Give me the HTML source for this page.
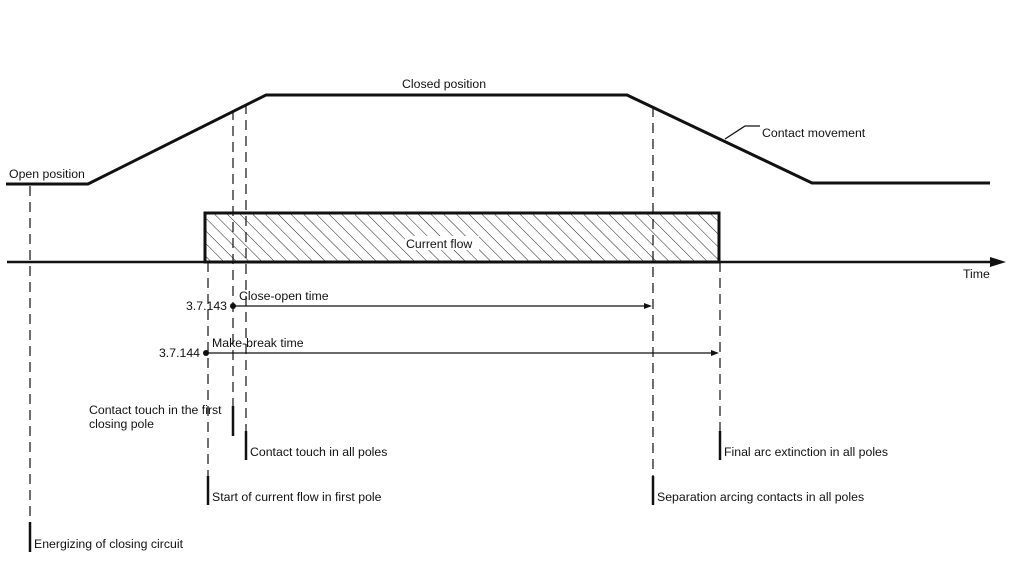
<!DOCTYPE html>
<html><head><meta charset="utf-8"><style>
html,body{margin:0;padding:0;background:#fff;}
svg{display:block;}
text{font-family:"Liberation Sans",sans-serif;font-size:12.3px;fill:#111;}
</style></head><body>
<svg id="c" width="1025" height="572" viewBox="0 0 1025 572">
<defs>
<pattern id="hatch" patternUnits="userSpaceOnUse" width="9" height="9" patternTransform="rotate(-45)">
<line x1="0" y1="0" x2="0" y2="9" stroke="#222" stroke-width="1"/>
</pattern>
</defs>
<g id="g"></g>
</svg>
<script>
// Contact movement path (time x, position y)
const moveX = [6, 88, 266, 627, 812, 990];
const moveY = [184, 184, 95, 95, 183, 183];
// Current flow interval
const flowStart = [205];
const flowEnd = [719];
// Event markers: x, dash top, tick top, tick bottom
const eventX = [30, 208, 233, 246, 653, 720];
const eventTop = [186, 262, 110, 104, 107, 262];
const tickTop = [522, 476, 406, 431, 476, 431];
const tickBot = [552, 505, 436, 460, 505, 460];
const eventLabels = ["Energizing of closing circuit","Start of current flow in first pole","","Contact touch in all poles","Separation arcing contacts in all poles","Final arc extinction in all poles"];
// Intervals
const intStart = [233, 206];
const intEnd = [652, 719];
const intY = [306, 353];
const intCode = ["3.7.143", "3.7.144"];
const intName = ["Close-open time", "Make-break time"];

const NS = "http://www.w3.org/2000/svg";
const g = document.getElementById('g');
function mk(tag, attrs, txt){
  const e = document.createElementNS(NS, tag);
  for (const k in attrs) e.setAttribute(k, attrs[k]);
  if (txt) e.textContent = txt;
  g.appendChild(e);
  return e;
}
let e;
e = mk('line',{x1:7,y1:262,x2:995,y2:262,stroke:'#111','stroke-width':2.5});


e = mk('polygon',{points:'1006,262 990,257 990,267',fill:'#111'});


e = mk('text',{x:963,y:278},'Time');


e = mk('rect',{x:flowStart[0],y:213,width:flowEnd[0]-flowStart[0],height:49,fill:'url(#hatch)',stroke:'#111','stroke-width':3});


e = mk('rect',{x:405,y:236,width:74,height:14,fill:'#fff'});


e = mk('text',{x:406,y:248},'Current flow');


e = mk('polyline',{points:moveX.map((x,i)=>x+','+moveY[i]).join(' '),fill:'none',stroke:'#111','stroke-width':3});


e = mk('text',{x:9,y:178},'Open position');


e = mk('text',{x:402,y:88},'Closed position');


e = mk('polyline',{points:'725,139 745,126 760,126',fill:'none',stroke:'#111','stroke-width':1.3});


e = mk('text',{x:762,y:137},'Contact movement');


eventX.forEach((x,i)=>{
  let d = mk('line',{x1:x,y1:eventTop[i],x2:x,y2:tickTop[i],stroke:'#111','stroke-width':1.2,'stroke-dasharray':'10,6'});
  
  
  let t = mk('line',{x1:x,y1:tickTop[i],x2:x,y2:tickBot[i],stroke:'#111','stroke-width':2.5});
  
  
  if (eventLabels[i]) {
    let l = mk('text',{x:x+4,y:tickBot[i]-4},eventLabels[i]);
    
    
  }
});
e = mk('text',{x:89,y:414},'Contact touch in the first');


e = mk('text',{x:89,y:428},'closing pole');


intStart.forEach((x,i)=>{
  const y = intY[i];
  let l = mk('line',{x1:x,y1:y,x2:intEnd[i]-6,y2:y,stroke:'#111','stroke-width':1.2});
  
  
  let a = mk('polygon',{points:`${intEnd[i]},${y} ${intEnd[i]-8},${y-3} ${intEnd[i]-8},${y+3}`,fill:'#111'});
  
  
  let c = mk('circle',{cx:x,cy:y,r:3,fill:'#111'});
  
  
  let t = mk('text',{x:x-6,y:y+4,'text-anchor':'end'},intCode[i]);
  
  
  let n = mk('text',{x:x+6,y:y-6},intName[i]);
  
  
});
</script>
</body></html>
